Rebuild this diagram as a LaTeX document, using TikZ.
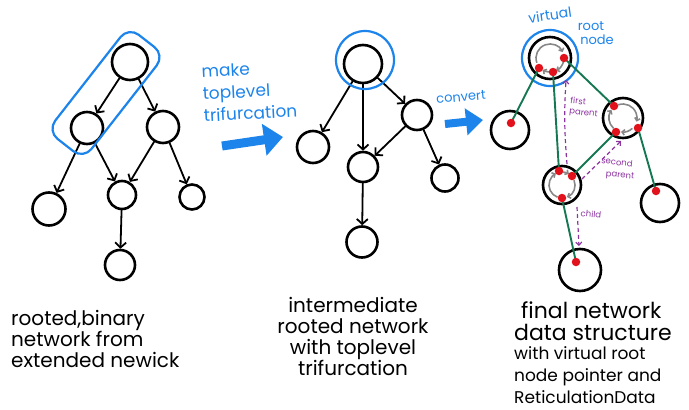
\documentclass[tikz,border=0pt]{standalone}
\usepackage{fontspec}
\setmainfont{Poppins}
\usetikzlibrary{arrows.meta}
\definecolor{marker}{RGB}{28,132,235}
\definecolor{link}{RGB}{22,120,82}
\definecolor{dotred}{RGB}{226,18,28}
\definecolor{ptr}{RGB}{140,52,160}
\definecolor{nextgray}{RGB}{135,135,135}
\begin{document}
\begin{tikzpicture}[x=1pt,y=1pt,
  vtx/.style={circle,draw=black,line width=2.6pt,inner sep=0pt,minimum size=#1},
  edge/.style={line width=1.8pt,line cap=round,-{Straight Barb[length=5pt,width=11pt,line width=1.8pt]}},
  hilite/.style={draw=marker,line width=2.2pt},
  bigarrow/.style={draw=marker,line width=#1,-{Triangle[length=19pt,width=31pt]}},
  lab/.style={font=\fontsize{20}{21}\selectfont,inner sep=0pt},
  bluelab/.style={text=marker,inner sep=0pt,font=\fontsize{17}{22}\selectfont},
  plab/.style={text=ptr,inner sep=0pt,font=\fontsize{8.5}{10.5}\selectfont,align=left},
  pedge/.style={draw=ptr,line width=1.2pt,dash pattern=on 4pt off 3pt,-{Straight Barb[length=3pt,width=6pt]}},
  glink/.style={draw=link,line width=1.9pt},
  rdot/.style={circle,fill=dotred,inner sep=0pt,minimum size=8.5pt},
  nxt/.style={draw=nextgray,line width=1.6pt,-{Straight Barb[length=2.5pt,width=5.5pt]}}]
\useasboundingbox (0,0) rectangle (689,-410);

% ---------- rooted binary network ----------
\node[vtx=36pt] (a1) at (130,-62) {};
\node[vtx=32pt] (a2) at (87,-128) {};
\node[vtx=32pt] (a3) at (163,-127) {};
\node[vtx=33pt] (a4) at (49,-209) {};
\node[vtx=28pt] (a5) at (122,-195) {};
\node[vtx=25pt] (a6) at (192,-197) {};
\node[vtx=30pt] (a7) at (120,-265) {};
\draw[edge] (a1) -- (a2);
\draw[edge] (a1) -- (a3);
\draw[edge] (a2) -- (a4);
\draw[edge] (a2) -- (a5);
\draw[edge] (a3) -- (a5);
\draw[edge] (a3) -- (a6);
\draw[edge] (a5) -- (a7);
\node[hilite,rounded corners=13pt,minimum width=132pt,minimum height=46pt,rotate=52] (asel) at (106,-93) {};

% ---------- intermediate network ----------
\node[vtx=38pt] (b1) at (363,-64) {};
\node[vtx=32pt] (b2) at (313,-147) {};
\node[vtx=30pt] (b3) at (363,-167) {};
\node[vtx=30pt] (b4) at (417,-115) {};
\node[vtx=27pt] (b5) at (445,-178) {};
\node[vtx=31pt] (b6) at (362,-242) {};
\draw[edge] (b1) -- (b2);
\draw[edge] (b1) -- (b3);
\draw[edge] (b1) -- (b4);
\draw[edge] (b4) -- (b3);
\draw[edge] (b4) -- (b5);
\draw[edge] (b3) -- (b6);
\node[hilite,circle,minimum size=58pt] (bsel) at (365,-60) {};

% ---------- transition arrows ----------
\coordinate (m1) at (222,-146);
\coordinate (m2) at (283,-137);
\draw[bigarrow=9pt] (m1) -- (m2);
\node[bluelab,anchor=north west,align=left,rotate=3] (mk) at (201,-65) {make\\toplevel\\trifurcation};
\coordinate (c1s) at (445,-124);
\coordinate (c1e) at (483,-120);
\draw[bigarrow=8pt,-{Triangle[length=17pt,width=26pt]}] (c1s) -- (c1e);
\node[bluelab,font=\fontsize{13}{15}\selectfont,rotate=5] (cv) at (461,-97) {convert};

% ---------- final network data structure ----------
\node[vtx=42pt] (c1) at (550,-58) {};
\node[vtx=38pt] (c2) at (510,-130) {};
\node[vtx=40pt] (c3) at (623,-118) {};
\node[vtx=38pt] (c4) at (562,-185) {};
\node[vtx=38pt] (c5) at (660,-203) {};
\node[vtx=42pt] (c6) at (580,-270) {};
\node[hilite,circle,minimum size=56pt] (csel) at (550,-58) {};
\node[bluelab,font=\fontsize{14}{15}\selectfont,rotate=8] (vr1) at (550,-15) {virtual};
\node[bluelab,font=\fontsize{13}{14}\selectfont] (vr2) at (591,-26) {root};
\node[bluelab,font=\fontsize{13}{14}\selectfont] (vr3) at (597,-40) {node};

% next pointers circulating inside each node
\draw[nxt] (c1) ++(200:14) arc[start angle=200,end angle=25,radius=14];
\draw[nxt] (c1) ++(-15:14) arc[start angle=-15,end angle=-65,radius=14];
\draw[nxt] (c1) ++(268:14) arc[start angle=268,end angle=238,radius=14];
\draw[nxt] (c3) ++(110:14) arc[start angle=110,end angle=-15,radius=14];
\draw[nxt] (c3) ++(312:14) arc[start angle=312,end angle=262,radius=14];
\draw[nxt] (c3) ++(228:14) arc[start angle=228,end angle=145,radius=14];
\draw[nxt] (c4) ++(88:13) arc[start angle=88,end angle=58,radius=13];
\draw[nxt] (c4) ++(22:13) arc[start angle=22,end angle=-68,radius=13];
\draw[nxt] (c4) ++(250:13) arc[start angle=250,end angle=118,radius=13];

% half-edge end points
\coordinate (d1) at (539,-68);
\coordinate (d2) at (553,-72);
\coordinate (d3) at (564,-58);
\coordinate (d4) at (511,-123);
\coordinate (d5) at (614,-106);
\coordinate (d6) at (616,-132);
\coordinate (d7) at (638,-128);
\coordinate (d8) at (559,-171);
\coordinate (d9) at (572,-176);
\coordinate (d10) at (562,-198);
\coordinate (d11) at (656,-191);
\coordinate (d12) at (576,-262);
\draw[glink] (d1) -- (d4);
\draw[glink] (d2) -- (d8);
\draw[glink] (d3) -- (d5);
\draw[glink] (d6) -- (d9);
\draw[glink] (d7) -- (d11);
\draw[glink] (d10) -- (d12);
\foreach \d in {d1,d2,d3,d4,d5,d6,d7,d8,d9,d10,d11,d12}
  \node[rdot] (r\d) at (\d) {};

% reticulation pointers
\coordinate (p1s) at (567,-164);
\coordinate (p1e) at (566,-80);
\draw[pedge] (p1s) to[bend left=4] (p1e);
\node[plab,rotate=-6] (pl1) at (584,-108) {first\\parent};
\coordinate (p2s) at (582,-179);
\coordinate (p2e) at (621,-141);
\draw[pedge] (p2s) -- (p2e);
\node[plab,rotate=-6] (pl2a) at (617,-162) {second};
\node[plab,rotate=-6] (pl2b) at (620,-176) {parent};
\coordinate (p3s) at (577,-207);
\coordinate (p3e) at (579,-246);
\draw[pedge] (p3s) -- (p3e);
\node[plab,rotate=-6] (pl3) at (591,-214) {child};

% ---------- captions ----------
\node[lab,anchor=north west,align=left] (t1) at (11,-310) {rooted,binary\\network from\\extended newick};
\node[lab,anchor=north,align=center] (t2) at (353,-297) {intermediate\\rooted network\\with toplevel\\trifurcation};
\node[lab,anchor=north west,align=left,font=\fontsize{22}{22}\selectfont] (t3) at (514,-301) {\hspace*{7pt}final network\\data structure\\[-3pt]{\fontsize{17}{18}\selectfont with virtual root}\\{\fontsize{17}{18}\selectfont node pointer and}\\{\fontsize{17}{18}\selectfont ReticulationData}};
\end{tikzpicture}
\end{document}
